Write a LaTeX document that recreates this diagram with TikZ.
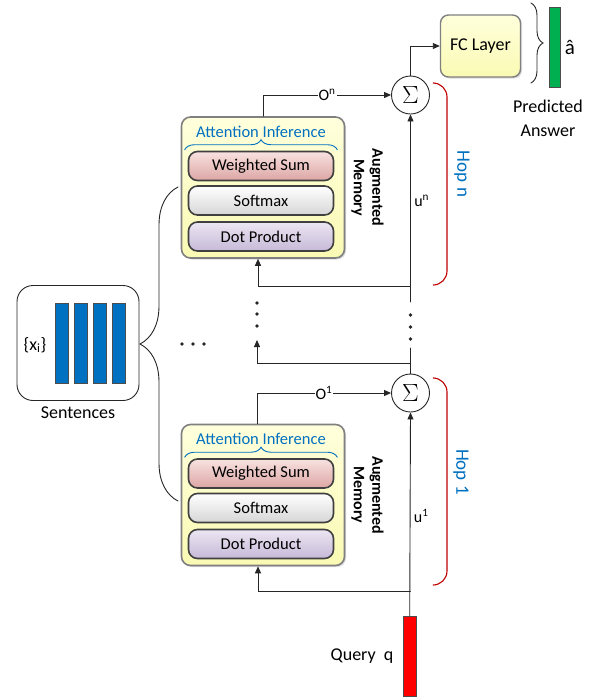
\documentclass[tikz,border=0pt]{standalone}
\usepackage{fontspec}
\setmainfont{Carlito}
\usetikzlibrary{arrows.meta,decorations.pathreplacing,positioning,calc,shadows}

\definecolor{infoblue}{HTML}{0070C0}
\definecolor{hopred}{HTML}{C00000}
\definecolor{barblue}{HTML}{0070C0}
\definecolor{ansgreen}{HTML}{00B050}
\definecolor{memtop}{HTML}{FFFFDC}
\definecolor{membot}{HTML}{FAFAB4}
\definecolor{wstop}{HTML}{F8E2E1}
\definecolor{wsbot}{HTML}{DCA6A4}
\definecolor{smtop}{HTML}{FFFFFF}
\definecolor{smbot}{HTML}{D6D6D6}
\definecolor{dptop}{HTML}{ECE6F2}
\definecolor{dpbot}{HTML}{C6B9D8}

\begin{document}
\begin{tikzpicture}
  [x=1pt,y=-1pt,line cap=round,
  % Styles
  flow/.style={-{Triangle[length=7pt,width=6pt]},line width=0.9pt,draw=black!85},
  plain line/.style={line width=0.9pt,draw=black!85},
  memory box/.style={draw=black!50,line width=1.6pt,rounded corners=9pt,
    top color=memtop,bottom color=membot,minimum width=163pt,minimum height=141pt,
    drop shadow={shadow xshift=1.5pt,shadow yshift=-1.5pt,opacity=0.3}},
  layer box/.style={draw=black!75,line width=1.6pt,rounded corners=9pt,
    minimum width=145pt,minimum height=29pt,inner sep=0pt,
    font=\fontsize{16.5}{19}\selectfont},
  sum node/.style={circle,draw=black!85,line width=0.9pt,minimum size=38pt,
    inner sep=0pt,fill=white},
  bar/.style={draw=black!70,line width=0.7pt,inner sep=0pt,minimum width=13pt},
  hop bracket/.style={draw=hopred,line width=1.1pt,rounded corners=14pt},
  hop text/.style={rotate=-90,text=infoblue,font=\fontsize{19}{22}\selectfont},
  sup text/.style={fill=white,inner sep=1pt,font=\fontsize{16}{19}\selectfont},
  big text/.style={font=\fontsize{18}{24}\selectfont}]
  \useasboundingbox (0,0) rectangle (604,697);
  % Memory blocks of the two hops
  \foreach \h/\cy in {n/187.5,1/495}{
    \node[memory box] (outer\h) at (263,\cy) {};
    \node[text=infoblue,font=\fontsize{16.5}{19}\selectfont] (att\h) at (261,\cy-56) {Attention Inference};
    \node[layer box,top color=wstop,bottom color=wsbot] (ws\h) at (261,\cy-21.5) {Weighted Sum};
    \node[layer box,top color=smtop,bottom color=smbot] (sm\h) at (261,\cy+13) {Softmax};
    \node[layer box,top color=dptop,bottom color=dpbot] (dp\h) at (261,\cy+49) {Dot Product};
    \draw[infoblue,line width=0.9pt,decorate,decoration={brace,amplitude=10pt}]
      ($(ws\h.north west)+(-3,-1)$) -- ($(ws\h.north east)+(3,-1)$);
    \node[rotate=-90,align=center,font=\bfseries\fontsize{16}{18.5}\selectfont]
      (aug\h) at (367.5,\cy) {Augmented\\Memory};
  }
  % Sums and output
  \node[sum node] (sign) at (410.5,95) {\fontsize{24}{24}\selectfont$\Sigma$};
  \node[sum node] (sig1) at (410.5,393) {\fontsize{24}{24}\selectfont$\Sigma$};
  \node[draw=black!50,line width=1.4pt,rounded corners=8pt,top color=memtop,bottom color=membot,
    minimum width=80pt,minimum height=62pt,big text,
    drop shadow={shadow xshift=1.5pt,shadow yshift=-1.5pt,opacity=0.3}] (fc) at (480.5,46) {FC Layer};
  \node[bar,fill=ansgreen,minimum width=11pt,minimum height=80pt] (ans) at (554.5,47) {};
  \node[right=1pt of ans,font=\fontsize{21}{24}\selectfont] (ahat) {â};
  \node[align=center,big text] (predlabel) at (548,118) {Predicted\\Answer};
  \draw[plain line,decorate,decoration={brace,amplitude=12pt}] (531,3) -- (531,83);
  % Query and sentences
  \node[bar,fill=red,minimum height=80pt] (query) at (409.7,656) {};
  \node[left=6pt of query,big text] (querylabel) {Query\ \ q};
  \node[draw=black!85,line width=0.9pt,rounded corners=16pt,minimum width=122pt,
    minimum height=115pt] (sentbox) at (78,343) {};
  \foreach \i in {0,...,3}
    \node[bar,fill=barblue,minimum height=80pt] (sent\i) at (61.5+19.2*\i,343) {};
  \node[big text] (xi) at (35,345) {\{x\textsubscript{i}\}};
  \node[below=2pt of sentbox,big text] (sentlabel) {Sentences};
  \draw[plain line,decorate,decoration={brace,amplitude=38pt}] (178,501) -- (178,187);
  \foreach \x in {182,193,204} \fill[black!85] (\x,344) circle (1.8pt);
  % Connectors
  \coordinate (upgap) at (410.5,302);
  \coordinate (fbn) at (410.5,286);
  \coordinate (lowgap) at (410.5,348);
  \coordinate (fbmid) at (410.5,363);
  \coordinate (midl) at (257,340);
  \coordinate (fb1) at (410.5,591);
  \draw[flow] (outern.north) |- node[sup text,pos=0.75] {O\textsuperscript{n}} (sign.west);
  \draw[flow] (sign.north) |- (fc.west);
  \draw[flow] (upgap) -- node[right=0pt,pos=0.54,font=\fontsize{16}{19}\selectfont] {u\textsuperscript{n}} (sign.south);
  \draw[flow] (fbn) -| ($(outern.south)+(-5,0)$);
  \foreach \y in {303,314,326} \fill[black!85] (257,\y) circle (1.8pt);
  \foreach \y in {315,327,339} \fill[black!85] (410.5,\y) circle (1.8pt);
  \draw[flow] (fbmid) -| (midl);
  \draw[plain line] (sig1.north) -- (lowgap);
  \draw[flow] ($(outer1.north)+(-6,0)$) |- node[sup text,pos=0.75] {O\textsuperscript{1}} (sig1.west);
  \draw[flow] (query.north) -- node[right=0pt,pos=0.49,font=\fontsize{16}{19}\selectfont] {u\textsuperscript{1}} (sig1.south);
  \draw[flow] (fb1) -| ($(outer1.south)+(-5,0)$);
  % Hops
  \draw[hop bracket] (434,83) -| (447,184) |- (434,285);
  \draw[hop bracket] (434,378) -| (447,481) |- (434,585);
  \node[hop text] (hopn) at (462,174) {Hop n};
  \node[hop text] (hop1) at (461,472) {Hop 1};
\end{tikzpicture}
\end{document}
